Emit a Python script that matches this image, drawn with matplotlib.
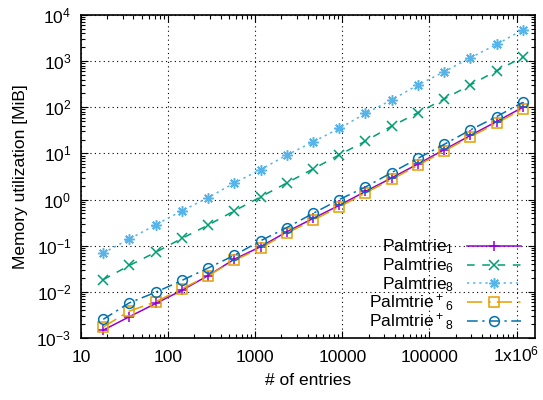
import matplotlib
matplotlib.use("Agg")
import matplotlib.pyplot as plt
import numpy as np
from matplotlib.ticker import LogLocator, FixedLocator, FixedFormatter, NullFormatter

plt.rcParams['font.family'] = ['Liberation Sans', 'DejaVu Sans']
plt.rcParams['mathtext.default'] = 'regular'

entries = [18 * 2 ** k for k in range(17)]
palmtrie1 = [0.00148, 0.0029, 0.0056, 0.0108, 0.0225, 0.051, 0.095, 0.20, 0.39, 0.75,
             1.5, 2.95, 5.9, 12.0, 24.5, 49, 100]
palmtrie6 = [0.0184, 0.0374, 0.0721, 0.144, 0.28, 0.57, 1.14, 2.29, 4.6, 9.3,
             18.5, 39, 76, 151, 304, 620, 1221]
palmtrie8 = [0.0695, 0.14, 0.284, 0.57, 1.10, 2.29, 4.46, 9.19, 17.8, 34.8,
             73.5, 144, 304, 590, 1185, 2297, 4786]
palmtrie_p6 = [0.00173, 0.00383, 0.0061, 0.0116, 0.0225, 0.048, 0.089, 0.187, 0.36, 0.69,
               1.39, 2.75, 5.5, 11.2, 22.9, 45, 92]
palmtrie_p8 = [0.00254, 0.0058, 0.0098, 0.0177, 0.0328, 0.062, 0.128, 0.247, 0.50, 1.0,
               1.87, 3.84, 7.8, 15.7, 32.2, 62.7, 128]

labels = [r'Palmtrie$_1$', r'Palmtrie$_6$', r'Palmtrie$_8$',
          r'Palmtrie$^+{}_6$', r'Palmtrie$^+{}_8$']
xtick_vals = [10, 100, 1000, 10000, 100000, 1000000]
xtick_labels = ['10', '100', '1000', '10000', '100000', r'1x10$^6$']
ytick_vals = [1e-3, 1e-2, 1e-1, 1e0, 1e1, 1e2, 1e3, 1e4]
ytick_labels = [r'10$^{-3}$', r'10$^{-2}$', r'10$^{-1}$', r'10$^0$', r'10$^1$',
                r'10$^2$', r'10$^3$', r'10$^4$']

W, H = 543, 400
fig = plt.figure(figsize=(W / 100, H / 100), dpi=100)
L, R, T, B = 81, 535, 15, 338
ax = fig.add_axes([L / W, 1 - B / H, (R - L) / W, (B - T) / H])

lw = 1.1
ms = 6.5
mew = 1.1
styles = [
    dict(color='#9400D3', ls='-', marker='+', ms=ms + 1),
    dict(color='#009E73', dashes=(5, 5), marker='x', ms=ms),
    dict(color='#56B4E9', dashes=(1.5, 2.5), marker=(8, 2, 0), ms=ms + 1),
    dict(color='#E69F00', dashes=(10, 4, 1.5, 4), marker='s', ms=ms, mfc='none'),
    dict(color='#0072B2', dashes=(7, 3, 1.5, 3), marker='o', ms=ms + 0.5, mfc='none'),
]
series = [palmtrie1, palmtrie6, palmtrie8, palmtrie_p6, palmtrie_p8]
for ys, st, lab in zip(series, styles, labels):
    ax.plot(entries, ys, lw=lw, mew=mew, label=lab, **st)

ax.set_xscale('log')
ax.set_yscale('log')
ax.set_xlim(10, 1.63e6)
ax.set_ylim(1e-3, 1e4)

ax.xaxis.set_major_locator(FixedLocator(xtick_vals))
ax.xaxis.set_major_formatter(FixedFormatter(xtick_labels))
ax.xaxis.set_minor_locator(LogLocator(base=10, subs=np.arange(2, 10), numticks=20))
ax.xaxis.set_minor_formatter(NullFormatter())
ax.yaxis.set_major_locator(FixedLocator(ytick_vals))
ax.yaxis.set_major_formatter(FixedFormatter(ytick_labels))
ax.yaxis.set_minor_locator(LogLocator(base=10, subs=np.arange(2, 10), numticks=20))
ax.yaxis.set_minor_formatter(NullFormatter())

ax.tick_params(which='both', direction='in', top=True, right=True, labelsize=12.5, width=0.8)
ax.tick_params(which='major', length=5)
ax.tick_params(which='minor', length=3)
ax.tick_params(axis='y', pad=7)
ax.tick_params(axis='x', pad=17)
for s in ax.spines.values():
    s.set_linewidth(1.2)
for t in ax.get_xticklabels():
    t.set_va('baseline')

ax.grid(True, which='major', color='black', lw=0.8, ls=(0, (1, 3)))

ax.set_xlabel('# of entries', fontsize=12.5, labelpad=6)
ax.set_ylabel('Memory utilization [MiB]', fontsize=12.5, labelpad=6)

# key (gnuplot style: text right aligned, sample on the right)
row_y = [245.7, 264.5, 283.3, 302.0, 320.7]
x0, x1 = 467, 521
text_right = 454
for yp, st, lab in zip(row_y, styles, labels):
    ya = (B - yp) / (B - T)
    xa0 = (x0 - L) / (R - L)
    xa1 = (x1 - L) / (R - L)
    st2 = dict(st)
    mk = st2.pop('marker')
    m_s = st2.pop('ms')
    mfc = st2.pop('mfc', None)
    ax.plot([xa0, xa1], [ya, ya], transform=ax.transAxes, lw=lw, clip_on=False, **st2)
    ax.plot([(xa0 + xa1) / 2], [ya], transform=ax.transAxes, lw=0, marker=mk, ms=m_s,
            mew=mew, color=st['color'], mfc=mfc if mfc else st['color'], clip_on=False)
    fig.text(text_right / W, 1 - (yp + 6) / H, lab, ha='right', va='baseline', fontsize=12.5)

fig.savefig('out.png', dpi=100)
